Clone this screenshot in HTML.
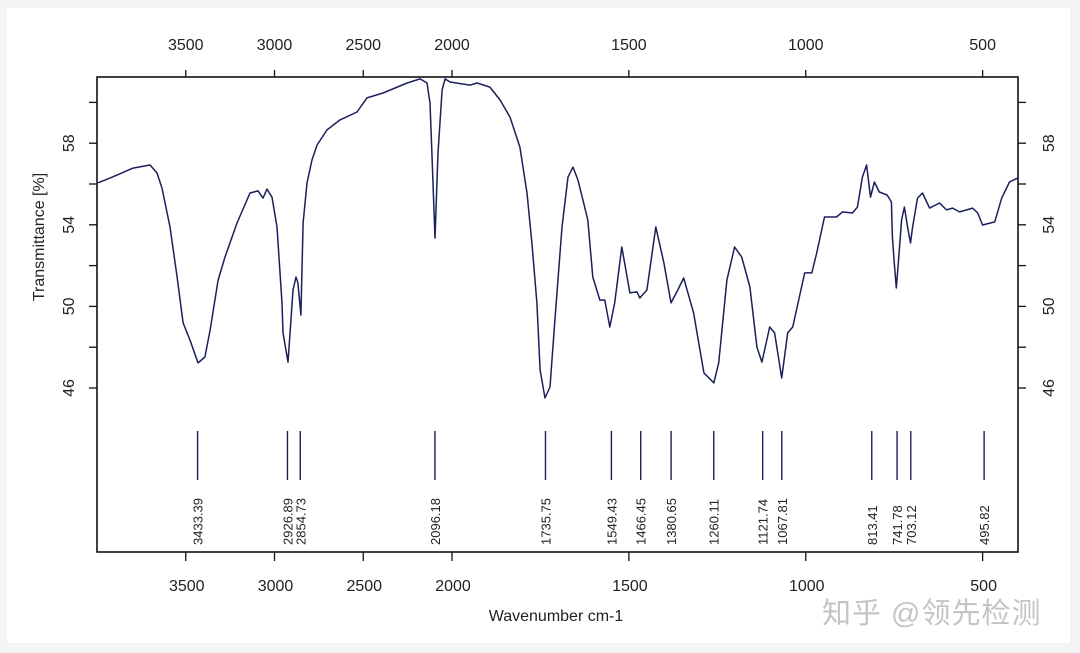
<!DOCTYPE html>
<html><head><meta charset="utf-8"><style>
html,body{margin:0;padding:0;background:#f4f4f4;}
#wrap{position:relative;width:1080px;height:653px;overflow:hidden;background:#f4f4f4;}
#panel{position:absolute;left:7px;top:8px;width:1063px;height:635px;background:#fff;}
svg{position:absolute;left:0;top:0;}
text{font-family:"Liberation Sans",sans-serif;fill:#222;}
#wm{position:absolute;left:822px;top:590px;font-family:"Liberation Sans","Noto Sans CJK SC",sans-serif;font-size:29px;color:#c4c4c4;letter-spacing:1px;}
</style></head><body>
<div id="wrap">
<div id="panel"></div>
<svg id="chart" width="1080" height="653"></svg>
<div id="wm">知乎 @领先检测</div>
</div>
<script>
const wavenumbers=[3994,3927,3797,3701,3662,3634,3589,3549,3515,3476,3431,3392,3363,3318,3279,3211,3138,3093,3065,3042,3014,2986,2958,2952,2924,2913,2896,2879,2868,2851,2839,2817,2789,2760,2704,2631,2535,2479,2389,2253,2180,2141,2124,2113,2096,2079,2056,2039,2011,1949,1929,1893,1864,1836,1808,1788,1774,1760,1751,1737,1723,1709,1689,1672,1658,1644,1630,1616,1602,1582,1568,1554,1540,1520,1497,1477,1469,1449,1424,1401,1381,1362,1345,1317,1288,1260,1246,1223,1201,1181,1158,1138,1124,1102,1088,1068,1051,1037,1003,983,969,947,913,896,868,854,840,828,817,806,792,770,758,755,750,744,738,729,721,712,704,698,684,670,650,622,602,585,565,528,514,500,466,446,424,401];
const transmittance=[56.06,56.29,56.78,56.93,56.54,55.80,53.89,51.44,49.19,48.35,47.23,47.52,48.84,51.29,52.42,54.09,55.56,55.66,55.31,55.75,55.36,53.89,50.17,48.70,47.27,48.60,50.80,51.44,51.15,49.58,54.09,56.05,57.18,57.91,58.65,59.14,59.53,60.22,60.46,60.95,61.15,60.95,59.97,57.52,53.35,57.52,60.61,61.15,61.00,60.85,60.95,60.75,60.12,59.28,57.81,55.56,53.11,50.17,46.88,45.51,46.05,49.33,53.89,56.34,56.83,56.20,55.22,54.24,51.44,50.31,50.31,48.99,50.17,52.91,50.66,50.71,50.41,50.80,53.89,52.13,50.17,50.80,51.39,49.68,46.74,46.25,47.23,51.29,52.91,52.42,50.95,48.01,47.27,48.99,48.70,46.49,48.70,48.99,51.64,51.64,52.62,54.38,54.38,54.63,54.58,54.87,56.34,56.93,55.36,56.10,55.61,55.46,55.12,53.40,52.18,50.90,52.18,54.24,54.87,53.89,53.11,53.89,55.31,55.56,54.82,55.07,54.73,54.82,54.63,54.82,54.58,53.99,54.14,55.31,56.10,56.29];
const peakLabels=[3433.39,2926.89,2854.73,2096.18,1735.75,1549.43,1466.45,1380.65,1260.11,1121.74,1067.81,813.41,741.78,703.12,495.82];
const xTicks=[3500,3000,2500,2000,1500,1000,500];
const yTicks=[60,58,56,54,52,50,48,46];
const yLabels=[58,54,50,46];

const L=97,R=1018,T=77,B=552;
function xs(w){return w>=2000? L+(4000-w)*0.1775 : 452+(2000-w)*0.35375;}
function ys(v){return 388-(v-46)*20.4;}
const svg=document.getElementById('chart');
const NS='http://www.w3.org/2000/svg';
function mk(tag,attrs){const e=document.createElementNS(NS,tag);for(const k in attrs)e.setAttribute(k,attrs[k]);svg.appendChild(e);return e;}

const frame=mk('rect',{x:L,y:T,width:R-L,height:B-T,fill:'none',stroke:'#111','stroke-width':1.6});



xTicks.forEach(w=>{
  const x=xs(w);
  const t1=mk('line',{x1:x,y1:T,x2:x,y2:T-7,stroke:'#111','stroke-width':1.3});
  
  
  const t2=mk('line',{x1:x,y1:B,x2:x,y2:B+9,stroke:'#111','stroke-width':1.3});
  
  
  const l1=mk('text',{x:x,y:50,'text-anchor':'middle','font-size':16});
  l1.textContent=w;
  
  
  const l2=mk('text',{x:x+1,y:591,'text-anchor':'middle','font-size':16});
  l2.textContent=w;
  
  
});
yTicks.forEach(v=>{
  const y=ys(v);
  const a=mk('line',{x1:L,y1:y,x2:L-8,y2:y,stroke:'#111','stroke-width':1.3});
  
  
  const b=mk('line',{x1:R,y1:y,x2:R+8,y2:y,stroke:'#111','stroke-width':1.3});
  
  
});
yLabels.forEach(v=>{
  const y=ys(v);
  const a=mk('text',{x:0,y:0,'text-anchor':'middle','font-size':16,transform:`translate(74,${y}) rotate(-90)`});
  a.textContent=v;
  
  
  const b=mk('text',{x:0,y:0,'text-anchor':'middle','font-size':16,transform:`translate(1054,${y}) rotate(-90)`});
  b.textContent=v;
  
  
});
const yt=mk('text',{x:0,y:0,'text-anchor':'middle','font-size':16,transform:'translate(44,237) rotate(-90)'});
yt.textContent='Transmittance [%]';


const xt=mk('text',{x:556,y:621,'text-anchor':'middle','font-size':16});
xt.textContent='Wavenumber cm-1';



let d='';
wavenumbers.forEach((w,i)=>{d+=(i?'L':'M')+xs(w).toFixed(1)+','+ys(transmittance[i]).toFixed(1);});
const line=mk('path',{d:d,fill:'none',stroke:'#1b1f5c','stroke-width':1.5,'stroke-linejoin':'round'});



peakLabels.forEach(p=>{
  const x=xs(p);
  const m=mk('line',{x1:x,y1:431,x2:x,y2:480,stroke:'#1b1f5c','stroke-width':1.4});
  
  
  const t=mk('text',{x:0,y:0,'text-anchor':'start','font-size':13,transform:`translate(${x+5},545) rotate(-90)`});
  t.textContent=p.toFixed(2);
  
  
});
</script>
</body></html>
